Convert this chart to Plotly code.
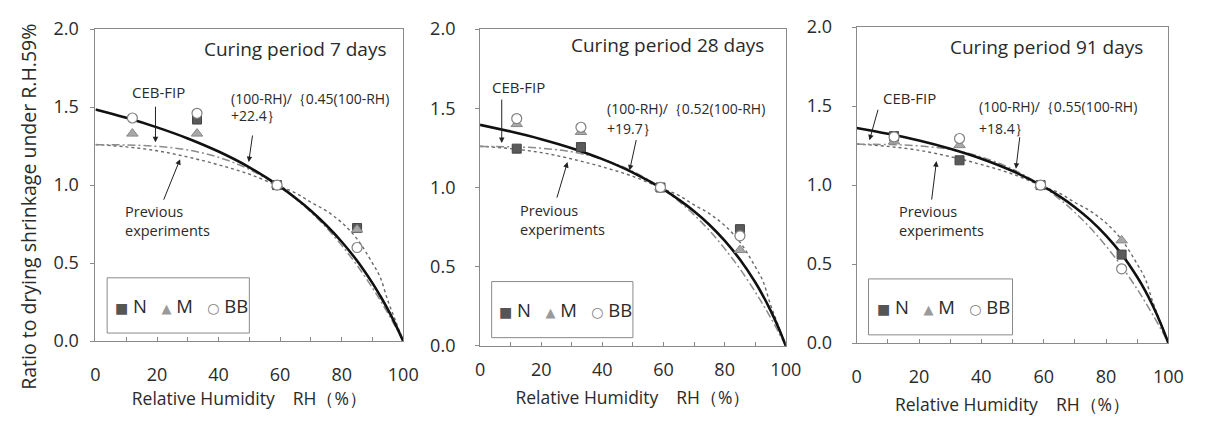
import plotly.graph_objects as go

# ---------------- data ----------------
rh_curve = [0, 10, 20, 30, 40, 50, 60, 65, 70, 75, 80, 85, 90, 92.5, 95, 97.5, 100]

proposed_7d = [1.484, 1.431, 1.370, 1.299, 1.215, 1.114, 0.990, 0.917, 0.836, 0.743, 0.637, 0.515, 0.372, 0.291, 0.203, 0.106, 0]
proposed_28d = [1.395, 1.353, 1.305, 1.248, 1.179, 1.094, 0.988, 0.923, 0.850, 0.765, 0.664, 0.545, 0.402, 0.318, 0.224, 0.119, 0]
proposed_91d = [1.362, 1.325, 1.282, 1.230, 1.167, 1.089, 0.990, 0.930, 0.860, 0.778, 0.680, 0.563, 0.418, 0.333, 0.236, 0.126, 0]
ceb_fip = [1.258, 1.257, 1.248, 1.225, 1.178, 1.101, 0.987, 0.913, 0.827, 0.728, 0.614, 0.486, 0.341, 0.262, 0.179, 0.092, 0]
previous = [1.26, 1.245, 1.22, 1.18, 1.13, 1.07, 0.99, 0.95, 0.89, 0.835, 0.76, 0.655, 0.50, 0.41, 0.26, 0.13, 0]

rh_points = [12, 33, 59, 85]
n_7d = [None, 1.42, 1.0, 0.725]
m_7d = [1.33, 1.33, 1.0, 0.715]
bb_7d = [1.43, 1.46, 1.0, 0.60]
n_28d = [1.245, 1.255, 1.0, 0.737]
m_28d = [1.40, 1.35, 1.0, 0.605]
bb_28d = [1.435, 1.38, 1.0, 0.695]
n_91d = [1.31, 1.157, 1.0, 0.56]
m_91d = [1.277, 1.253, 1.0, 0.65]
bb_91d = [1.305, 1.295, 1.0, 0.47]

panel_titles = ["Curing period 7 days", "Curing period 28 days", "Curing period 91 days"]
formula_line1 = ["(100-RH)/｛0.45(100-RH)", "(100-RH)/｛0.52(100-RH)", "(100-RH)/｛0.55(100-RH)"]
formula_line2 = ["+22.4｝", "+19.7｝", "+18.4｝"]
x_tickvals = [0, 20, 40, 60, 80, 100]
y_tickvals = [0.0, 0.5, 1.0, 1.5, 2.0]

# ---------------- styling / layout ----------------
FONT = "Open Sans"
TXT = "#2a2a2a"
FRAME = "#8a8a8a"

x_domains = [[0.0762, 0.3355], [0.4002, 0.6578], [0.7175, 0.9801]]
y_domains = [[0.1734, 0.9596], [0.1615, 0.9596], [0.1686, 0.9644]]
x_label_standoff = [17, 8, 17]
x_title_standoff = [6, 11, 12]

proposed = [proposed_7d, proposed_28d, proposed_91d]
pts = [(n_7d, m_7d, bb_7d), (n_28d, m_28d, bb_28d), (n_91d, m_91d, bb_91d)]

fig = go.Figure()
for i in range(3):
    xa = "x" if i == 0 else f"x{i+1}"
    ya = "y" if i == 0 else f"y{i+1}"
    fig.add_trace(go.Scatter(x=rh_curve, y=previous, mode="lines", line=dict(color="#6a6a6a", width=1.4, dash="dot", shape="spline"),
                             xaxis=xa, yaxis=ya, showlegend=False, name="Previous experiments"))
    fig.add_trace(go.Scatter(x=rh_curve, y=ceb_fip, mode="lines", line=dict(color="#8c8c8c", width=1.5, dash="8px,3px,2px,3px", shape="spline"),
                             xaxis=xa, yaxis=ya, showlegend=False, name="CEB-FIP"))
    fig.add_trace(go.Scatter(x=rh_curve, y=proposed[i], mode="lines", line=dict(color="#111111", width=2.6, shape="spline"),
                             xaxis=xa, yaxis=ya, showlegend=False, name="Proposed"))
    n, m, bb = pts[i]
    fig.add_trace(go.Scatter(x=rh_points, y=n, mode="markers", name="N",
                             marker=dict(symbol="square", size=9, color="#5a5a5a", line=dict(color="#444444", width=1)),
                             xaxis=xa, yaxis=ya, showlegend=False))
    fig.add_trace(go.Scatter(x=rh_points, y=m, mode="markers", name="M",
                             marker=dict(symbol="triangle-up", size=10, color="#a8a8a8", line=dict(color="#888888", width=1)),
                             xaxis=xa, yaxis=ya, showlegend=False))
    fig.add_trace(go.Scatter(x=rh_points, y=bb, mode="markers", name="BB",
                             marker=dict(symbol="circle", size=10, color="white", line=dict(color="#808080", width=1.2)),
                             xaxis=xa, yaxis=ya, showlegend=False))

layout = dict(width=1207, height=421, margin=dict(l=0, r=0, t=0, b=0),
              paper_bgcolor="white", plot_bgcolor="white", showlegend=False,
              font=dict(family=FONT, color=TXT))

for i in range(3):
    xk = "xaxis" if i == 0 else f"xaxis{i+1}"
    yk = "yaxis" if i == 0 else f"yaxis{i+1}"
    ya = "y" if i == 0 else f"y{i+1}"
    xa = "x" if i == 0 else f"x{i+1}"
    layout[xk] = dict(domain=x_domains[i], range=[0, 100], anchor=ya, tickvals=x_tickvals,
                      ticks="inside", ticklen=4, tickcolor=FRAME,
                      minor=dict(dtick=10, ticks="inside", ticklen=4, tickcolor=FRAME),
                      showline=True, linecolor=FRAME, linewidth=1, mirror=True, showgrid=False, zeroline=False,
                      tickfont=dict(size=18, family=FONT, color=TXT), ticklabelstandoff=x_label_standoff[i],
                      title=dict(text="Relative Humidity　RH（%）", font=dict(size=17.5, family=FONT, color=TXT),
                                 standoff=x_title_standoff[i]))
    layout[yk] = dict(domain=y_domains[i], range=[0, 2], anchor=xa, tickvals=y_tickvals, tickformat=".1f",
                      ticks="outside", ticklen=4, tickcolor=FRAME,
                      showline=True, linecolor=FRAME, linewidth=1, mirror=True, showgrid=False, zeroline=False,
                      tickfont=dict(size=18, family=FONT, color=TXT), ticklabelstandoff=(8 if i == 0 else 16))

fig.update_layout(**layout)

# text annotations
title_pos = [(64.9, 1.873), (61.3, 1.899), (60.9, 1.875)]
ceb_pos = [(11.2, 1.595), (3.2, 1.631), (7.9, 1.552)]
f1_pos = [(43.5, 1.555), (40.8, 1.500), (38.5, 1.500)]
f2_pos = [(43.5, 1.445), (40.8, 1.369), (38.5, 1.361)]
prev_pos = [(8.9, 0.828, 0.707), (12.5, 0.857, 0.732), (12.9, 0.836, 0.710)]
ceb_arrow = [(19.5, 1.275, 0, -37), (7.1, 1.28, 0, -45), (4.1, 1.284, 9, -32)]
f_arrow = [(49.8, 1.148, 4, -28), (48.9, 1.107, 7, -32), (51.1, 1.104, 4, -33)]
prev_arrow = [(27.5, 1.166, -17, 42), (28.6, 1.16, -11, 37), (25.6, 1.152, -5, 40)]

anns = []
for i in range(3):
    xa = "x" if i == 0 else f"x{i+1}"
    ya = "y" if i == 0 else f"y{i+1}"
    def t(x, y, s, size, anchor="left"):
        anns.append(dict(x=x, y=y, xref=xa, yref=ya, text=s, showarrow=False, xanchor=anchor, yanchor="middle",
                         font=dict(size=size, family=FONT, color=TXT)))
    t(title_pos[i][0], title_pos[i][1], panel_titles[i], 19, "center")
    t(ceb_pos[i][0], ceb_pos[i][1], "CEB-FIP", 15)
    t(f1_pos[i][0], f1_pos[i][1], formula_line1[i], 14)
    t(f2_pos[i][0], f2_pos[i][1], formula_line2[i], 14)
    t(prev_pos[i][0], prev_pos[i][1], "Previous", 14.5)
    t(prev_pos[i][0], prev_pos[i][2], "experiments", 14.5)
    for (ax_, ay_, dx, dy) in (ceb_arrow[i], f_arrow[i], prev_arrow[i]):
        anns.append(dict(x=ax_, y=ay_, xref=xa, yref=ya, text="", showarrow=True, ax=dx, ay=dy,
                         arrowhead=2, arrowsize=1.1, arrowwidth=1, arrowcolor="#222222", standoff=0))
    # legend box content
    leg = ("<span style='font-family:DejaVu Sans;font-size:14px;color:#555555'>■</span>\u00a0N\u00a0\u00a0\u00a0"
           "<span style='font-family:DejaVu Sans;font-size:13px;color:#9a9a9a'>▲</span>\u00a0M\u00a0\u00a0\u00a0"
           "<span style='font-family:DejaVu Sans;font-size:14px;color:#808080'>○</span>\u00a0BB")
    anns.append(dict(x=0.28, y=0.115, xref=f"{xa} domain", yref=f"{ya} domain", text=leg, showarrow=False,
                     xanchor="center", yanchor="middle", font=dict(size=18.5, family=FONT, color=TXT)))

anns.append(dict(x=24 / 1207, y=(421 - 206) / 421, xref="paper", yref="paper", text="Ratio to drying shrinkage under R.H.59%",
                 textangle=-90, showarrow=False, xanchor="center", yanchor="middle",
                 font=dict(size=19.5, family=FONT, color=TXT)))

shapes = []
for i in range(3):
    xa = "x" if i == 0 else f"x{i+1}"
    ya = "y" if i == 0 else f"y{i+1}"
    shapes.append(dict(type="rect", xref=f"{xa} domain", yref=f"{ya} domain", x0=0.038, x1=0.5, y0=0.026, y1=0.203,
                       line=dict(color=FRAME, width=1), fillcolor="rgba(0,0,0,0)"))

fig.update_layout(annotations=anns, shapes=shapes)
fig.write_html("out.html")
